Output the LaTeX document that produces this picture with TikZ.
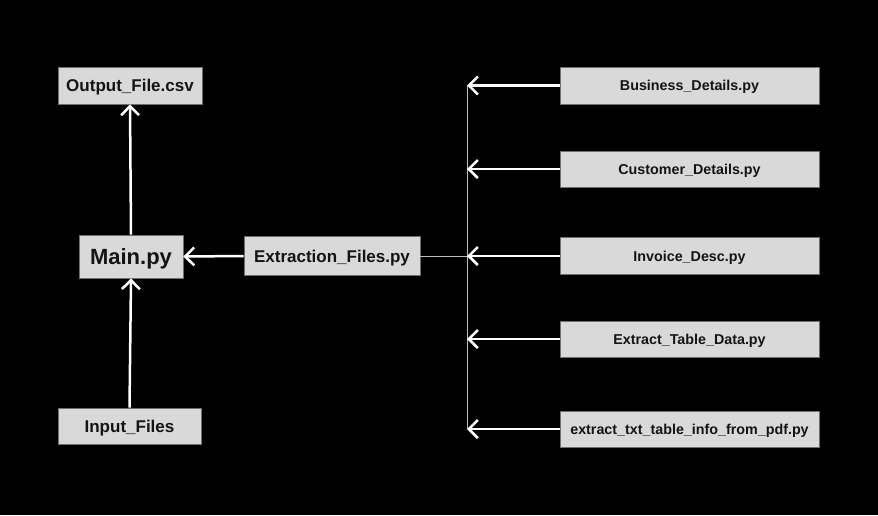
\documentclass[tikz,border=0pt]{standalone}
\usepackage{fontspec}
\setmainfont{Liberation Sans}
\usetikzlibrary{positioning,arrows.meta}
\definecolor{boxgray}{HTML}{D9D9D9}
\definecolor{boxline}{HTML}{6E6E6E}
\definecolor{txt}{HTML}{141414}
\definecolor{bus}{HTML}{BDBDBD}
\begin{document}
\begin{tikzpicture}[x=1pt, y=-1pt,
  box/.style={draw=boxline, line width=0.8pt, fill=boxgray, text=txt, inner sep=0pt, align=center, text height=12.2pt, text depth=0pt, font=\bfseries\fontsize{17}{20}\selectfont},
  rbox/.style={box, minimum width=259pt, minimum height=37pt, text height=10.3pt, font=\bfseries\fontsize{14.3}{17}\selectfont},
  arrow/.style={-{Straight Barb[length=9pt, width=18pt]}, line width=2.5pt, white},
  thin line/.style={line width=1pt, bus}
]
\fill[black] (0,0) rectangle (878,515);
\node[box, minimum width=144pt, minimum height=37pt] (out) at (130,85.5) {Output\_File.csv};
\node[box, minimum width=104pt, minimum height=43pt, text height=15.8pt, font=\bfseries\fontsize{22}{26}\selectfont] (main) at (131,256.5) {Main.py};
\node[box, minimum width=176pt, minimum height=39pt] (extr) at (332,256) {Extraction\_Files.py};
\node[box, minimum width=143pt, minimum height=36pt] (input) at (129.5,426) {Input\_Files};
\node[rbox] (bus) at (689.5,85.5) {Business\_Details.py};
\node[rbox, minimum height=36pt] (cust) at (689.5,169) {Customer\_Details.py};
\node[rbox] (inv) at (689.5,256) {Invoice\_Desc.py};
\node[rbox, minimum height=36pt] (tab) at (689.5,339) {Extract\_Table\_Data.py};
\node[rbox, minimum height=36pt] (txt) at (689.5,429) {extract\_txt\_table\_info\_from\_pdf.py};
\coordinate (top) at (467,85.5);
\coordinate (bot) at (467,429);
\draw[thin line] (top) -- (bot);
\draw[thin line] (extr.east) -- (extr.east -| top);
\draw[arrow] (main.north) -- (out.south);
\draw[arrow] (input.north) -- (main.south);
\draw[arrow] (extr.west) -- (main.east);
\foreach \f in {bus,cust,inv,tab,txt}
  \draw[arrow] (\f.west) -- (\f.west -| top);
\end{tikzpicture}
\end{document}
